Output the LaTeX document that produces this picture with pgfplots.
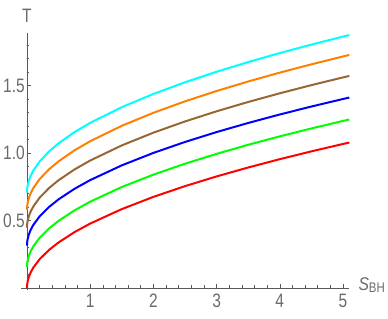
\documentclass[border=0pt]{standalone}
\usepackage{pgfplots}
\pgfplotsset{compat=1.18}
\usepackage{graphicx}
\usepackage{fontspec}
\setmainfont{Liberation Sans}
\definecolor{axgray}{gray}{0.35}
\definecolor{labgray}{gray}{0.42}
\definecolor{mred}{rgb}{1,0,0}
\definecolor{mgreen}{rgb}{0,1,0}
\definecolor{mblue}{rgb}{0,0,1}
\definecolor{mbrown}{rgb}{0.6,0.4,0.2}
\definecolor{morange}{rgb}{1,0.5,0}
\definecolor{mcyan}{rgb}{0,1,1}
\newcommand{\lbl}[1]{{\fontsize{19.5}{21}\selectfont\scalebox{0.8}[1]{#1}}}
\begin{document}
\begin{tikzpicture}
\begin{axis}[
  x=63.2bp, y=135bp,
  axis lines=middle,
  axis line style={-, axgray, line width=0.9pt},
  xmin=-0.1, xmax=5.1, ymin=-0.015, ymax=1.89,
  enlargelimits=false,
  clip=false,
  xtick={1,2,3,4,5},
  xticklabels={\lbl{1},\lbl{2},\lbl{3},\lbl{4},\lbl{5}},
  ytick={0.5,1.0,1.5},
  yticklabels={\lbl{0.5},\lbl{1.0},\lbl{1.5}},
  minor xtick={0.2,0.4,0.6,0.8,1.2,1.4,1.6,1.8,2.2,2.4,2.6,2.8,3.2,3.4,3.6,3.8,4.2,4.4,4.6,4.8},
  minor ytick={0.1,0.2,0.3,0.4,0.6,0.7,0.8,0.9,1.1,1.2,1.3,1.4,1.6,1.7,1.8},
  tick align=inside,
  major tick length=4bp, minor tick length=2.5bp,
  tick style={axgray, line width=0.6pt},
  every tick label/.append style={text=labgray},
  xticklabel style={yshift=-4bp, inner sep=2bp},
  yticklabel style={inner sep=2bp},
  xlabel={\fontsize{18.5}{20}\selectfont\scalebox{0.85}[1]{\textit{S}}\raisebox{-1.5bp}{\fontsize{14}{16}\selectfont\scalebox{0.82}[1]{BH}}},
  ylabel={\lbl{T}},
  xlabel style={at={(axis cs:5.1,0)}, anchor=west, inner sep=0pt, xshift=9bp, yshift=3bp, text=labgray},
  ylabel style={at={(axis cs:0,1.89)}, anchor=south, inner sep=0pt, yshift=10bp, text=labgray},
  every axis plot/.append style={line width=2pt, line join=round},
]
% red
\addplot[mred] coordinates {
(0,0) (0.002,0.0213) (0.01,0.0477) (0.03,0.0826) (0.06,0.1168) (0.1,0.1508) (0.2,0.2133) (0.35,0.2822) (0.5,0.3373) (0.75,0.4131) (1,0.477) (1.5,0.5842) (2,0.6746) (2.5,0.7542) (3,0.8262) (3.5,0.8924) (4,0.954) (4.5,1.0119) (5,1.0666) (5.1,1.0772)};
% green
\addplot[mgreen] coordinates {
(0,0.155) (0.002,0.1766) (0.01,0.2034) (0.03,0.2388) (0.06,0.2735) (0.1,0.3080) (0.2,0.3714) (0.35,0.4413) (0.5,0.4972) (0.75,0.5741) (1,0.639) (1.5,0.7478) (2,0.8395) (2.5,0.9203) (3,0.9933) (3.5,1.0605) (4,1.123) (4.5,1.1817) (5,1.2373) (5.1,1.2480)};
% blue
\addplot[mblue] coordinates {
(0,0.313) (0.002,0.3347) (0.01,0.3616) (0.03,0.3972) (0.06,0.4320) (0.1,0.4667) (0.2,0.5303) (0.35,0.6005) (0.5,0.6567) (0.75,0.7339) (1,0.799) (1.5,0.9082) (2,1.0003) (2.5,1.0814) (3,1.1548) (3.5,1.2222) (4,1.285) (4.5,1.3440) (5,1.3997) (5.1,1.4105)};
% brown
\addplot[mbrown] coordinates {
(0,0.446) (0.002,0.4683) (0.01,0.4958) (0.03,0.5323) (0.06,0.5680) (0.1,0.6035) (0.2,0.6687) (0.35,0.7406) (0.5,0.7981) (0.75,0.8773) (1,0.944) (1.5,1.0559) (2,1.1503) (2.5,1.2334) (3,1.3086) (3.5,1.3777) (4,1.442) (4.5,1.5024) (5,1.5596) (5.1,1.5706)};
% orange
\addplot[morange] coordinates {
(0,0.579) (0.002,0.6017) (0.01,0.6298) (0.03,0.6670) (0.06,0.7034) (0.1,0.7396) (0.2,0.8062) (0.35,0.8795) (0.5,0.9382) (0.75,1.0189) (1,1.087) (1.5,1.2012) (2,1.2974) (2.5,1.3822) (3,1.4589) (3.5,1.5294) (4,1.595) (4.5,1.6566) (5,1.7149) (5.1,1.7262)};
% cyan
\addplot[mcyan] coordinates {
(0,0.706) (0.002,0.7291) (0.01,0.7577) (0.03,0.7955) (0.06,0.8326) (0.1,0.8695) (0.2,0.9372) (0.35,1.0119) (0.5,1.0716) (0.75,1.1537) (1,1.223) (1.5,1.3392) (2,1.4371) (2.5,1.5234) (3,1.6015) (3.5,1.6732) (4,1.740) (4.5,1.8027) (5,1.8621) (5.1,1.8735)};
\coordinate (BL) at (axis cs:-0.427,-0.2296);
\coordinate (TR) at (axis cs:5.712,2.133);
\end{axis}
\pgfresetboundingbox
\path (BL) rectangle (TR);
\end{tikzpicture}
\end{document}
